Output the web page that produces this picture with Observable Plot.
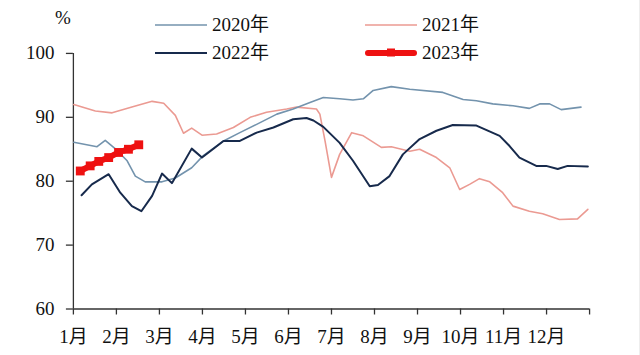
<!DOCTYPE html>
<html>
<head>
<meta charset="utf-8">
<script src="https://cdn.jsdelivr.net/npm/d3@7"></script>
<script src="https://cdn.jsdelivr.net/npm/@observablehq/plot@0.6"></script>
<style>
  html, body { margin: 0; padding: 0; background: #fff; }
  #wrap { position: relative; width: 640px; height: 355px; overflow: hidden; box-sizing: border-box; border-right: 1px solid #eee; }
  #wrap > svg { position: absolute; left: 0; top: 0; }
  #wrap > svg text { font-family: "Liberation Serif", "Noto Sans CJK SC", serif; font-size: 19px; fill: #111; }
  .lab { position: absolute; font-family: "Liberation Serif", "Noto Sans CJK SC", serif; font-size: 19px; color: #111; line-height: 20px; white-space: nowrap; }
  .item { position: absolute; display: flex; align-items: center; font-family: "Liberation Serif", "Noto Sans CJK SC", serif; font-size: 19px; color: #111; line-height: 20px; white-space: nowrap; }
  #wrap .item svg { position: static; margin-right: 5px; display: block; }
</style>
</head>
<body>
<div id="wrap"></div>
<script>
// ---- data (x = months since Jan 1, y = %) ----
const monthTicks = [0, 1, 2, 3, 4, 5, 6, 7, 8, 9, 10, 11, 12];
const monthLabels = ["1月","2月","3月","4月","5月","6月","7月","8月","9月","10月","11月","12月"];
const yTicks = [60, 70, 80, 90, 100];

const seriesNames = ["2020年", "2021年", "2022年", "2023年"];
const seriesColors = ["#7393ad", "#eb9a92", "#172a4c", "#ee1111"];

const x2020 = [0.01,0.55,0.74,0.97,1.25,1.44,1.67,2.06,2.37,2.75,3.02,3.49,3.87,4.26,4.73,5.11,5.50,5.81,6.19,6.50,6.74,6.97,7.39,7.82,8.59,9.06,9.37,9.75,10.22,10.60,10.84,11.07,11.34,11.80];
const v2020 = [86.1,85.4,86.4,85.1,83.2,80.8,79.9,79.9,80.5,82.1,84.0,86.3,87.6,88.9,90.5,91.3,92.3,93.1,92.9,92.7,92.9,94.2,94.8,94.4,93.9,92.8,92.6,92.1,91.8,91.4,92.1,92.1,91.2,91.6];

const x2021 = [0.01,0.51,0.90,1.36,1.83,2.10,2.37,2.56,2.75,2.99,3.33,3.72,4.11,4.49,4.96,5.19,5.65,5.73,5.85,6.00,6.19,6.47,6.74,7.16,7.39,7.82,8.05,8.44,8.75,8.98,9.21,9.44,9.68,9.98,10.22,10.60,10.91,11.30,11.72,11.96];
const v2021 = [92.0,91.0,90.7,91.6,92.5,92.2,90.3,87.5,88.3,87.2,87.4,88.4,90.0,90.8,91.3,91.6,91.3,90.5,86.3,80.6,84.2,87.6,87.1,85.3,85.4,84.7,85.0,83.7,82.1,78.7,79.5,80.4,79.9,78.2,76.1,75.3,74.9,74.0,74.1,75.6];

const x2022 = [0.19,0.43,0.82,1.09,1.36,1.58,1.83,2.06,2.29,2.75,2.99,3.18,3.49,3.87,4.26,4.65,5.11,5.42,5.58,5.81,6.19,6.50,6.89,7.08,7.35,7.66,8.05,8.44,8.82,9.37,9.91,10.14,10.37,10.76,10.99,11.26,11.49,11.96];
const v2022 = [77.8,79.5,81.1,78.2,76.1,75.3,77.7,81.2,79.7,85.1,83.7,84.7,86.3,86.3,87.6,88.4,89.7,89.9,89.5,88.5,86.0,83.2,79.2,79.4,80.8,84.2,86.6,87.9,88.8,88.7,87.1,85.5,83.7,82.4,82.4,81.9,82.4,82.3];

const x2023 = [0.16,0.39,0.59,0.82,1.05,1.28,1.52];
const v2023 = [81.6,82.4,83.1,83.7,84.5,85.0,85.7];

const xs = [x2020, x2021, x2022, x2023];
const vs = [v2020, v2021, v2022, v2023];
const rows = seriesNames.flatMap((s, i) => xs[i].map((m, j) => ({series: s, month: m, value: vs[i][j]})));
const lineRows = s => rows.filter(d => d.series === s);

const axisColor = "#333";

const chart = Plot.plot({
  width: 640,
  height: 355,
  marginLeft: 73,
  marginRight: 50,
  marginTop: 53,
  marginBottom: 46,
  style: {background: "transparent"},
  x: {domain: [0, 12]},
  y: {domain: [60, 100]},
  marks: [
    Plot.ruleX([0], {y1: 60, y2: 100, stroke: axisColor, strokeWidth: 1.3}),
    Plot.ruleY([60], {x1: 0, x2: 12, stroke: axisColor, strokeWidth: 1.3}),
    Plot.axisY({ticks: yTicks, tickSize: 7, tickPadding: 12, stroke: axisColor, strokeWidth: 1.3, label: null}),
    Plot.axisX({ticks: monthTicks, tickSize: 6, tickPadding: 15, stroke: axisColor, strokeWidth: 1.3, label: null,
      tickFormat: d => d < 12 ? monthLabels[d] : ""}),
    Plot.line(lineRows("2021年"), {x: "month", y: "value", stroke: seriesColors[1], strokeWidth: 1.6}),
    Plot.line(lineRows("2020年"), {x: "month", y: "value", stroke: seriesColors[0], strokeWidth: 1.6}),
    Plot.line(lineRows("2022年"), {x: "month", y: "value", stroke: seriesColors[2], strokeWidth: 2}),
    Plot.line(lineRows("2023年"), {x: "month", y: "value", stroke: seriesColors[3], strokeWidth: 6}),
    Plot.dot(lineRows("2023年"), {x: "month", y: "value", symbol: "square", r: 5, fill: seriesColors[3], stroke: "none"})
  ]
});

const wrap = document.getElementById("wrap");
wrap.appendChild(chart);

// % unit label
const unit = document.createElement("div");
unit.className = "lab";
unit.style.left = "55px";
unit.style.top = "8px";
unit.textContent = "%";
wrap.appendChild(unit);

// legend
const legendPos = [[155, 15], [365, 15], [155, 43], [365, 43]];
seriesNames.forEach((s, i) => {
  const it = document.createElement("div");
  it.className = "item";
  it.style.left = legendPos[i][0] + "px";
  it.style.top = legendPos[i][1] + "px";
  const sw = d3.create("svg").attr("width", 52).attr("height", 12);
  if (i === 3) {
    sw.append("line").attr("x1", 3).attr("x2", 49).attr("y1", 6).attr("y2", 6)
      .attr("stroke", seriesColors[i]).attr("stroke-width", 6).attr("stroke-linecap", "round");
    sw.append("rect").attr("x", 22).attr("y", 1.5).attr("width", 8).attr("height", 8).attr("fill", seriesColors[i]);
  } else {
    sw.append("line").attr("x1", 0).attr("x2", 52).attr("y1", 6).attr("y2", 6)
      .attr("stroke", seriesColors[i]).attr("stroke-width", i === 2 ? 2 : 1.6);
  }
  it.appendChild(sw.node());
  const t = document.createElement("span");
  t.textContent = s;
  it.appendChild(t);
  wrap.appendChild(it);
});
</script>
</body>
</html>
